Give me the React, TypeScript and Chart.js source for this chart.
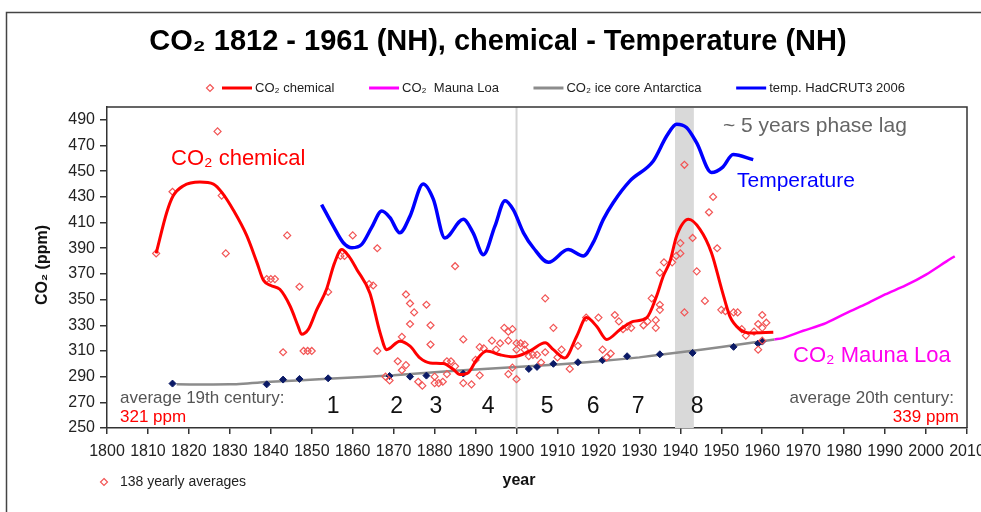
import React, { useEffect, useRef } from "react";
import { Chart, registerables } from "chart.js";

Chart.register(...registerables);

const FONT = '"Liberation Sans", Arial, Helvetica, sans-serif';

const titleText = "CO₂ 1812 - 1961 (NH), chemical - Temperature (NH)";
const seriesNames = ["CO₂ chemical", "CO₂  Mauna Loa", "CO₂ ice core Antarctica", "temp. HadCRUT3 2006"];
const xTickValues = [1800, 1810, 1820, 1830, 1840, 1850, 1860, 1870, 1880, 1890, 1900, 1910, 1920, 1930, 1940, 1950, 1960, 1970, 1980, 1990, 2000, 2010];
const yTickValues = [250, 270, 290, 310, 330, 350, 370, 390, 410, 430, 450, 470, 490];

const chemYears = [1812, 1814.6, 1816.2, 1818.6, 1822.7, 1826, 1828.4, 1830.8, 1834.1, 1836.6, 1838.2, 1840, 1842.2, 1844.7, 1846.7, 1847.5, 1849.2, 1851.2, 1853.6, 1855.5, 1857.3, 1859, 1861, 1864.2, 1866.7, 1868.3, 1871.5, 1874, 1876.4, 1878.9, 1882.1, 1884.6, 1886.2, 1888.2, 1890.3, 1892.7, 1896, 1899.2, 1903.3, 1907, 1909, 1911.8, 1914.7, 1917.1, 1919.6, 1922, 1925.3, 1928.5, 1931.8, 1934.2, 1935.8, 1937.5, 1939.1, 1942, 1944.8, 1947.6, 1950.1, 1952.1, 1954.6, 1957, 1962.7];
const chemValues = [386, 418, 431, 438.5, 441.5, 440, 432, 420, 400, 379, 365, 361, 358, 345, 329, 323, 327, 342, 358, 378, 389, 384, 373.5, 355, 324, 311, 317.6, 313.7, 304.6, 300.7, 300.2, 295.5, 291.6, 293, 303.3, 310, 307, 305.4, 310, 316.3, 311, 304.6, 321.5, 336, 329, 319, 326.7, 333, 336, 352.7, 368, 380, 399.5, 412.5, 404.7, 386.5, 358, 337, 326.7, 324, 324.6];

const scatterYears = [1812, 1816, 1827, 1828, 1829, 1839, 1840, 1841, 1843, 1844, 1847, 1848, 1849, 1850, 1854, 1857, 1858, 1860, 1864, 1865, 1866, 1866, 1868, 1869, 1871, 1872, 1872, 1873, 1873, 1874, 1874, 1875, 1876, 1877, 1878, 1879, 1879, 1880, 1880, 1881, 1882, 1883, 1883, 1884, 1885, 1885, 1887, 1887, 1889, 1890, 1891, 1891, 1892, 1894, 1895, 1896, 1897, 1898, 1898, 1898, 1899, 1899, 1900, 1900, 1900, 1901, 1902, 1902, 1903, 1904, 1905, 1906, 1907, 1907, 1909, 1910, 1911, 1913, 1915, 1917, 1920, 1921, 1922, 1923, 1924, 1925, 1926, 1927, 1928, 1931, 1932, 1933, 1934, 1934, 1935, 1935, 1935, 1936, 1938, 1939, 1940, 1940, 1941, 1941, 1943, 1944, 1946, 1947, 1948, 1949, 1950, 1951, 1953, 1954, 1955, 1956, 1958, 1959, 1959, 1960, 1960, 1960, 1961];
const scatterValues = [386, 434, 481, 431, 386, 366, 366, 366, 309, 400, 360, 310, 310, 310, 356, 384, 384, 400, 362, 361, 390, 310, 290, 287, 302, 321, 295, 354, 299, 347, 331, 340, 286, 283, 346, 330, 315, 290, 285, 285, 286, 302, 292, 302, 376, 298, 319, 285, 284, 303, 313, 291, 312, 318, 311, 316, 328, 318, 292, 325, 297, 327, 288, 316, 311, 316, 311, 315, 306, 307, 307, 301, 351, 309, 328, 305, 311, 296, 314, 336, 336, 311, 305, 308, 338, 333, 327, 329, 328, 330, 333, 351, 334, 328, 346, 342, 371, 379, 379, 384, 394, 386, 455, 340, 398, 372, 349, 418, 430, 390, 342, 341, 340, 340, 327, 322, 325, 331, 311, 338, 318, 328, 332];

const tempYears = [1852.4, 1855.3, 1857.7, 1859.8, 1862.2, 1864.6, 1867.1, 1869.1, 1871.5, 1874, 1877.2, 1879.7, 1882.5, 1887, 1889.4, 1891.9, 1894.7, 1897.2, 1899.2, 1901.7, 1904.1, 1907.8, 1912.6, 1916.3, 1918.7, 1921.2, 1923.6, 1927.7, 1933.4, 1936.7, 1939.1, 1941.5, 1944, 1947.6, 1950.3, 1952.9, 1957.8];
const tempValues = [424, 407, 394.3, 390.4, 393, 406, 419, 413.8, 402, 415, 440, 428, 398, 412.5, 402, 385, 407, 427, 420, 402, 390.4, 379, 389, 384, 394.3, 412.5, 425.5, 442.5, 458, 477.6, 486.6, 484, 472, 449, 453, 463, 459];

const iceLineYears = [1817, 1830, 1840, 1855, 1870, 1880, 1890, 1900, 1910, 1920, 1930, 1940, 1950, 1963];
const iceLineValues = [284, 284, 286, 288.5, 291, 293.5, 295.5, 297.5, 299.5, 302, 305, 309, 313, 319];

const icePointYears = [1816, 1839, 1843, 1847, 1854, 1869, 1874, 1878, 1887, 1903, 1905, 1909, 1915, 1921, 1927, 1935, 1943, 1953, 1959, 1960];
const icePointValues = [284.6, 284, 287.7, 288.2, 288.7, 290.5, 290, 290.8, 292.4, 296, 297.6, 300, 301.2, 302.8, 305.9, 307.4, 308.5, 313.2, 315.8, 317.3];

const maunaYears = [1963, 1965, 1970, 1975, 1980, 1985, 1990, 1995, 2000, 2005, 2007];
const maunaValues = [319, 320, 325.7, 331, 338.7, 346, 354, 361, 369.5, 379.8, 383.8];

const periodLabels = ["1", "2", "3", "4", "5", "6", "7", "8"];
const periodYears = [1855.2, 1870.7, 1880.3, 1893.1, 1907.5, 1918.7, 1929.7, 1944.1];
const centuryLineYear = 1900;
const bandStartYear = 1938.7;
const bandEndYear = 1943.3;
const avg19Text = "average 19th century:";
const avg19Value = "321 ppm";
const avg20Text = "average 20th century:";
const avg20Value = "339 ppm";

const pts = (xs: number[], ys: number[]) => xs.map((x, i) => ({ x, y: ys[i] }));

function drawDiamond(ctx: CanvasRenderingContext2D, x: number, y: number, r: number, stroke: string, fill?: string) {
  ctx.beginPath();
  ctx.moveTo(x, y - r);
  ctx.lineTo(x + r, y);
  ctx.lineTo(x, y + r);
  ctx.lineTo(x - r, y);
  ctx.closePath();
  if (fill) {
    ctx.fillStyle = fill;
    ctx.fill();
  }
  ctx.strokeStyle = stroke;
  ctx.lineWidth = 1.2;
  ctx.stroke();
}

const overlayPlugin = {
  id: "overlay",
  beforeDatasetsDraw(chart: any) {
    const { ctx, chartArea, scales } = chart;
    const x = scales.x;
    ctx.save();
    const b1 = x.getPixelForValue(bandStartYear);
    const b2 = x.getPixelForValue(bandEndYear);
    ctx.fillStyle = "#d9d9d9";
    ctx.fillRect(b1, chartArea.top + 1, b2 - b1, chartArea.bottom - chartArea.top - 1);
    const xv = x.getPixelForValue(centuryLineYear);
    ctx.strokeStyle = "#d4d4d4";
    ctx.lineWidth = 2;
    ctx.beginPath();
    ctx.moveTo(xv, chartArea.top);
    ctx.lineTo(xv, chartArea.bottom);
    ctx.stroke();
    ctx.restore();
  },
  afterDraw(chart: any) {
    const { ctx, chartArea, scales } = chart;
    const x = scales.x;
    ctx.save();
    // outer frame
    ctx.strokeStyle = "#444";
    ctx.lineWidth = 1.5;
    ctx.beginPath();
    ctx.moveTo(6.5, 600);
    ctx.lineTo(6.5, 12.5);
    ctx.lineTo(1000, 12.5);
    ctx.stroke();
    // plot frame top/right
    ctx.strokeStyle = "#333";
    ctx.lineWidth = 1.5;
    ctx.beginPath();
    ctx.moveTo(chartArea.left, chartArea.top);
    ctx.lineTo(chartArea.right, chartArea.top);
    ctx.lineTo(chartArea.right, chartArea.bottom);
    ctx.stroke();

    // title
    ctx.fillStyle = "#000";
    ctx.font = `bold 29px ${FONT}`;
    ctx.textAlign = "center";
    ctx.textBaseline = "middle";
    ctx.fillText(titleText, 498, 42);

    // legend
    ctx.font = `13px ${FONT}`;
    ctx.textAlign = "left";
    ctx.textBaseline = "middle";
    const ly = 88;
    const colors = ["#ff0000", "#ff00ff", "#8c8c8c", "#0000ff"];
    const lineLen = 30;
    const widths = seriesNames.map((n) => ctx.measureText(n).width);
    const startX = 222;
    const endX = 905;
    const fixed = widths.reduce((a, b) => a + b, 0) + seriesNames.length * (lineLen + 3);
    const gap = (endX - startX - fixed) / (seriesNames.length - 1);
    drawDiamond(ctx, 210, ly, 3.5, "#f25555");
    let cx = startX;
    seriesNames.forEach((n, i) => {
      ctx.strokeStyle = colors[i];
      ctx.lineWidth = 3;
      ctx.beginPath();
      ctx.moveTo(cx, ly);
      ctx.lineTo(cx + lineLen, ly);
      ctx.stroke();
      ctx.fillStyle = "#222";
      ctx.fillText(n, cx + lineLen + 3, ly);
      cx += lineLen + 3 + widths[i] + gap;
    });

    // bottom-left legend
    drawDiamond(ctx, 104, 482, 3.5, "#f25555");
    ctx.fillStyle = "#222";
    ctx.font = `14px ${FONT}`;
    ctx.fillText("138 yearly averages", 120, 482);

    // axis titles
    ctx.font = `bold 16px ${FONT}`;
    ctx.textAlign = "center";
    ctx.fillStyle = "#111";
    ctx.fillText("year", 519, 481);
    ctx.save();
    ctx.translate(43, 265);
    ctx.rotate(-Math.PI / 2);
    ctx.fillText("CO₂ (ppm)", 0, 0);
    ctx.restore();

    // in-plot labels
    ctx.textBaseline = "alphabetic";
    ctx.textAlign = "left";
    ctx.font = `22px ${FONT}`;
    ctx.fillStyle = "#ff0000";
    ctx.fillText("CO₂ chemical", 171, 165);
    ctx.font = `21px ${FONT}`;
    ctx.fillStyle = "#0000ff";
    ctx.fillText("Temperature", 737, 187);
    ctx.fillStyle = "#666";
    ctx.fillText("~ 5 years phase lag", 723, 132);
    ctx.fillStyle = "#ff00ee";
    ctx.font = `22px ${FONT}`;
    ctx.fillText("CO₂ Mauna Loa", 793, 362);

    ctx.font = `17px ${FONT}`;
    ctx.fillStyle = "#555";
    ctx.fillText(avg19Text, 120, 403);
    ctx.fillStyle = "#ff0000";
    ctx.fillText(avg19Value, 120, 422);
    ctx.textAlign = "right";
    ctx.fillStyle = "#555";
    ctx.fillText(avg20Text, 954, 403);
    ctx.fillStyle = "#ff0000";
    ctx.fillText(avg20Value, 959, 422);

    // period numbers
    ctx.textAlign = "center";
    ctx.textBaseline = "middle";
    ctx.font = `23px ${FONT}`;
    ctx.fillStyle = "#111";
    periodLabels.forEach((lab, i) => {
      ctx.fillText(lab, x.getPixelForValue(periodYears[i]), 407);
    });
    ctx.restore();
  },
};

export default function App() {
  const canvasRef = useRef<HTMLCanvasElement | null>(null);

  useEffect(() => {
    const canvas = canvasRef.current;
    if (!canvas) return;
    const chart = new Chart(canvas, {
      type: "line",
      data: {
        datasets: [
          {
            label: seriesNames[0],
            data: pts(chemYears, chemValues),
            borderColor: "#ff0000",
            borderWidth: 3,
            pointRadius: 0,
            cubicInterpolationMode: "monotone",
            order: 0,
          },
          {
            label: seriesNames[3],
            data: pts(tempYears, tempValues),
            borderColor: "#0000ff",
            borderWidth: 3.5,
            pointRadius: 0,
            cubicInterpolationMode: "monotone",
            order: 1,
          },
          {
            label: seriesNames[1],
            data: pts(maunaYears, maunaValues),
            borderColor: "#ff00ff",
            borderWidth: 2.5,
            pointRadius: 0,
            tension: 0.3,
            order: 1,
          },
          {
            label: "138 yearly averages",
            data: pts(scatterYears, scatterValues),
            showLine: false,
            pointStyle: "rectRot",
            pointRadius: 3.5,
            pointBorderWidth: 1.2,
            pointBorderColor: "#f25555",
            pointBackgroundColor: "rgba(255,255,255,0)",
            borderColor: "#f25555",
            order: 2,
          },
          {
            label: "ice core points",
            data: pts(icePointYears, icePointValues),
            showLine: false,
            pointStyle: "rectRot",
            pointRadius: 3.5,
            pointBorderWidth: 1,
            pointBorderColor: "#0b1a66",
            pointBackgroundColor: "#0b1a66",
            order: 3,
          },
          {
            label: seriesNames[2],
            data: pts(iceLineYears, iceLineValues),
            borderColor: "#8c8c8c",
            borderWidth: 2.5,
            pointRadius: 0,
            tension: 0.2,
            order: 4,
          },
        ],
      },
      options: {
        responsive: false,
        devicePixelRatio: 1,
        animation: false,
        layout: { padding: { top: 107, right: 14, left: 0, bottom: 0 } },
        plugins: {
          legend: { display: false },
          title: { display: false },
          tooltip: { enabled: false },
        },
        scales: {
          x: {
            type: "linear",
            min: 1800,
            max: 2010,
            afterBuildTicks: (scale: any) => {
              scale.ticks = xTickValues.map((v) => ({ value: v }));
            },
            afterFit: (scale: any) => {
              scale.height = 84;
              scale.paddingLeft = 0;
              scale.paddingRight = 0;
            },
            ticks: {
              autoSkip: false,
              maxRotation: 0,
              padding: 8,
              color: "#222",
              font: { family: FONT, size: 16 },
              callback: (v: any) => String(v),
            },
            grid: { drawOnChartArea: false, drawTicks: true, tickLength: 6, color: "#333", lineWidth: 1.5 },
            border: { display: true, color: "#333", width: 1.5 },
          },
          y: {
            type: "linear",
            min: 250,
            max: 500,
            afterBuildTicks: (scale: any) => {
              scale.ticks = yTickValues.map((v) => ({ value: v }));
            },
            afterFit: (scale: any) => {
              scale.width = 107;
              scale.paddingTop = 0;
              scale.paddingBottom = 0;
            },
            ticks: {
              autoSkip: false,
              padding: 5,
              color: "#222",
              font: { family: FONT, size: 16 },
              callback: (v: any) => String(v),
            },
            grid: { drawOnChartArea: false, drawTicks: true, tickLength: 7, color: "#333", lineWidth: 1.5 },
            border: { display: true, color: "#333", width: 1.5 },
          },
        },
      },
      plugins: [overlayPlugin],
    } as any);
    return () => chart.destroy();
  }, []);

  return (
    <div style={{ position: "fixed", left: 0, top: 0, width: 981, height: 512, background: "#fff" }}>
      <canvas ref={canvasRef} width={981} height={512} style={{ display: "block" }} />
    </div>
  );
}
